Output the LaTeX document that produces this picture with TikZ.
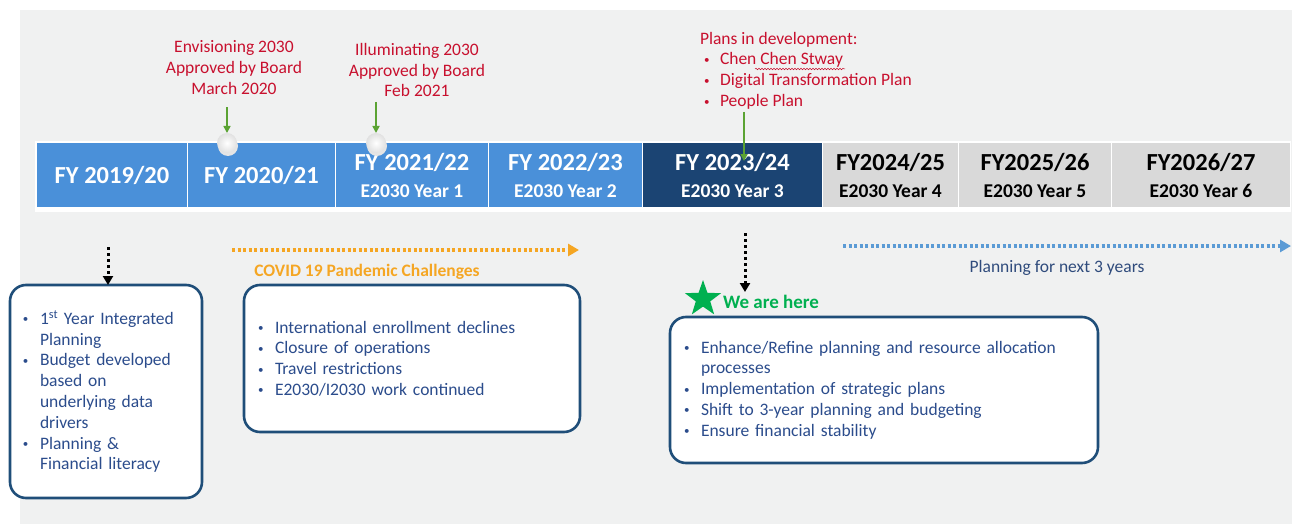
\documentclass[tikz,border=0pt]{standalone}
\usepackage{fontspec}
\setmainfont{Carlito}
\usetikzlibrary{arrows.meta,shapes.geometric,decorations.pathmorphing,calc}
\definecolor{bg}{HTML}{F0F1F1}
\definecolor{barblue}{HTML}{4A90D9}
\definecolor{navy}{HTML}{1B4473}
\definecolor{cellgray}{HTML}{D9D9D9}
\definecolor{redtxt}{HTML}{C8102E}
\definecolor{garrow}{HTML}{5BA333}
\definecolor{boxline}{HTML}{1F4E79}
\definecolor{boxtxt}{HTML}{2B4C8C}
\definecolor{covid}{HTML}{F5A623}
\definecolor{planblue}{HTML}{5B9BD5}
\definecolor{plantxt}{HTML}{2F4B7C}
\definecolor{wegreen}{HTML}{00B050}
\newcommand{\smallbul}{\raisebox{1.5pt}{\fontsize{11}{11}\selectfont•}}
\newcommand{\mybul}{\makebox[18pt][l]{\hspace{1pt}\smallbul}}
\newcommand{\myind}{\hspace*{18pt}}
\newcommand{\redbul}{\makebox[20pt][l]{\hspace{4pt}\smallbul}}
\newcommand{\ttl}[1]{{\fontsize{24.5}{27}\selectfont #1}}
\begin{document}
\begin{tikzpicture}[x=1pt,y=-1pt,
  every node/.style={inner sep=0pt, outer sep=0pt},
  cell/.style={anchor=north west, minimum height=64pt, inner sep=0pt, align=center,
    font=\fontsize{19.5}{27}\selectfont\bfseries, text=white},
  bluecell/.style={cell, fill=barblue},
  navycell/.style={cell, fill=navy},
  graycell/.style={cell, fill=cellgray, text=black},
  redlbl/.style={text=redtxt, align=center, font=\fontsize{17.5}{20.8}\selectfont},
  garr/.style={draw=garrow, line width=1.6pt, -{Triangle[length=7pt,width=7pt]}},
  sphere/.style={circle, minimum size=20pt, shading=radial, inner color=white,
    outer color=black!12},
  sphshadow/.style={circle, minimum size=20pt, fill=black!10},
  infobox/.style={draw=boxline, line width=2.6pt, rounded corners=16pt, fill=white,
    anchor=north west, text=boxtxt, align=left, inner ysep=0pt,
    font=\fontsize{17.5}{20.8}\selectfont},
  blkarr/.style={draw=black, line width=3pt, dash pattern=on 3pt off 3pt,
    -{Triangle[length=9pt,width=10pt]}},
  covidarr/.style={draw=covid, line width=4pt, dash pattern=on 3pt off 2.5pt,
    -{Triangle[length=11pt,width=12pt]}},
  planarr/.style={draw=planblue, line width=4pt, dash pattern=on 3pt off 2.5pt,
    -{Triangle[length=11pt,width=12pt]}},
]
\useasboundingbox (0,0) rectangle (1292,524);
% background
\fill[bg] (20,10) rectangle (1292,524);
% white strip behind the bar
\fill[white] (35,141) rectangle (1291,212);
% bar cells
\node[bluecell, minimum width=150pt] (c1) at (37,143) {\ttl{FY 2019/20}};
\node[bluecell, minimum width=147pt] (c2) at (188,143) {\ttl{FY 2020/21}};
\node[bluecell, minimum width=152pt] (c3) at (336,143) {\ttl{FY 2021/22}\\E2030 Year 1};
\node[bluecell, minimum width=153pt] (c4) at (489,143) {\ttl{FY 2022/23}\\E2030 Year 2};
\node[navycell, minimum width=179pt] (c5) at (643,143) {\ttl{FY 2023/24}\\E2030 Year 3};
\node[graycell, minimum width=135pt] (c6) at (823,143) {\ttl{FY2024/25}\\E2030 Year 4};
\node[graycell, minimum width=152pt] (c7) at (959,143) {\ttl{FY2025/26}\\E2030 Year 5};
\node[graycell, minimum width=178pt] (c8) at (1112,143) {\ttl{FY2026/27}\\E2030 Year 6};
% milestone spheres
\node[sphshadow] (sh1) at (228,146) {};
\node[sphshadow] (sh2) at (377,146) {};
\node[sphere] (s1) at (227,143) {};
\node[sphere] (s2) at (376,143) {};
% red labels
\node[redlbl] (env) at (234,67.5) {Envisioning 2030\\Approved by Board\\March 2020};
\node[redlbl] (ill) at (417,70) {Illuminating 2030\\Approved by Board\\Feb 2021};
\node[redlbl, align=left, anchor=north west] (plans) at (700,32)
  {Plans in development:\\\redbul Chen Chen Stway\\\redbul Digital Transformation Plan\\\redbul People Plan};
\draw[redtxt, line width=0.5pt, decorate, decoration={snake, amplitude=0.8pt, segment length=3pt}]
  (755,69) -- (845,69);
% green arrows
\draw[garr] ($(s1 |- env.south)+(0,13)$) -- (s1.north);
\draw[garr] ($(s2 |- ill.south)+(0,5)$) -- (s2.north);
\coordinate (p3) at (744,112);
\draw[garr] (p3) -- ($(p3 |- c5.north)+(0,18)$);
% boxes
\node[infobox, minimum width=192pt, minimum height=213pt, inner xsep=12pt, text width=168pt] (box1) at (10,285)
  {\mybul 1\textsuperscript{st} Year Integrated\\\myind Planning\\\mybul Budget developed\\\myind based on\\\myind underlying data\\\myind drivers\\\mybul Planning \&\\\myind Financial literacy};
\node[infobox, minimum width=336pt, minimum height=147pt, inner xsep=13pt, text width=310pt] (box2) at (244,285)
  {\mybul International enrollment declines\\\mybul Closure of operations\\\mybul Travel restrictions\\\mybul E2030/I2030 work continued};
\node[infobox, minimum width=428pt, minimum height=146pt, inner xsep=13pt, text width=402pt] (box3) at (670,317)
  {\mybul Enhance/Refine planning and resource allocation\\\myind processes\\\mybul Implementation of strategic plans\\\mybul Shift to 3-year planning and budgeting\\\mybul Ensure financial stability};
% black dotted arrows
\coordinate (d1) at (108,247);
\draw[blkarr] (d1) -- (d1 |- box1.north);
\coordinate (d2) at (745,233);
\coordinate (d2e) at (745,292);
\draw[blkarr] (d2) -- (d2e);
% covid arrow
\coordinate (o1) at (232,250);
\coordinate (o2) at (579,250);
\draw[covidarr] (o1) -- (o2);
\node[text=covid, font=\fontsize{17.5}{20}\selectfont\bfseries] (covidlbl) at (367,272) {COVID 19 Pandemic Challenges};
% planning arrow
\coordinate (b1) at (843,246);
\coordinate (b2) at (1291,246);
\draw[planarr] (b1) -- (b2);
\node[text=plantxt, font=\fontsize{17.5}{20}\selectfont] (planlbl) at (1057,268) {Planning for next 3 years};
% we are here
\node[star, star points=5, star point ratio=2.5, minimum size=38pt, fill=wegreen] (star) at (703,299) {};
\node[text=wegreen, font=\fontsize{19}{22}\selectfont\bfseries, anchor=west] (here) at (723,302) {We are here};
\end{tikzpicture}
\end{document}
